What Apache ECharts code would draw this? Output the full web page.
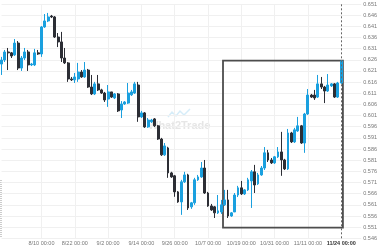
<!DOCTYPE html>
<html>
<head>
<meta charset="utf-8">
<style>html,body{margin:0;padding:0;background:#fff}#c{width:380px;height:250px}</style>
<script src="https://cdn.jsdelivr.net/npm/echarts@6/dist/echarts.min.js"></script>
</head>
<body>
<div id="c"></div>
<script>
// ---- data ----
const opens  = [0.6241,0.6259,0.6295,0.6291,0.6282,0.6335,0.6223,0.6268,0.6295,0.6237,0.6237,0.6291,0.6286,0.6407,0.6434,0.6456,0.6452,0.6362,0.6340,0.6268,
0.6246,0.6174,0.6170,0.6174,0.6205,0.6183,0.6214,0.6138,0.6107,0.6152,0.6125,0.6111,0.6084,0.6116,0.6089,0.6107,0.6035,0.6062,0.6066,0.6103,
0.6111,0.6147,0.6004,0.6022,0.5959,0.5982,0.5995,0.5964,0.5905,0.5834,0.5865,0.5753,0.5740,0.5668,0.5623,0.5713,0.5744,0.5601,0.5619,0.5722,
0.5735,0.5775,0.5663,0.5605,0.5601,0.5574,0.5578,0.5610,0.5632,0.5560,0.5578,0.5654,0.5686,0.5659,0.5677,0.5717,0.5758,0.5704,0.5744,0.5775,
0.5843,0.5811,0.5798,0.5825,0.5847,0.5811,0.5771,0.5932,0.5892,0.5941,0.5964,0.5887,0.6017,0.6102,0.6102,0.6093,0.6152,0.6138,0.6120,0.6143,
0.6152,0.6093,0.6156];
const closes = [0.6259,0.6295,0.6291,0.6277,0.6335,0.6223,0.6268,0.6295,0.6237,0.6241,0.6291,0.6286,0.6407,0.6434,0.6452,0.6452,0.6362,0.6340,0.6268,0.6246,
0.6174,0.6170,0.6183,0.6205,0.6183,0.6214,0.6138,0.6107,0.6152,0.6125,0.6111,0.6080,0.6116,0.6093,0.6107,0.6031,0.6062,0.6071,0.6111,0.6116,
0.6152,0.6004,0.6022,0.5959,0.5990,0.5990,0.5964,0.5905,0.5834,0.5874,0.5753,0.5735,0.5668,0.5623,0.5713,0.5744,0.5596,0.5619,0.5722,0.5735,
0.5775,0.5663,0.5605,0.5587,0.5574,0.5583,0.5610,0.5632,0.5560,0.5574,0.5654,0.5686,0.5659,0.5677,0.5722,0.5758,0.5699,0.5744,0.5775,0.5843,
0.5811,0.5798,0.5825,0.5847,0.5811,0.5771,0.5932,0.5892,0.5946,0.5964,0.5887,0.6017,0.6102,0.6093,0.6089,0.6152,0.6138,0.6120,0.6147,0.6152,
0.6093,0.6156,0.6255];
const lows   = [0.6192,0.6250,0.6214,0.6268,0.6277,0.6214,0.6210,0.6259,0.6210,0.6232,0.6232,0.6282,0.6273,0.6403,0.6429,0.6447,0.6358,0.6317,0.6250,0.6241,
0.6161,0.6165,0.6156,0.6161,0.6179,0.6179,0.6134,0.6102,0.6102,0.6120,0.6107,0.6071,0.6049,0.6089,0.6084,0.6026,0.5999,0.6058,0.6062,0.6098,
0.6107,0.5982,0.5999,0.5955,0.5955,0.5977,0.5959,0.5901,0.5829,0.5829,0.5731,0.5731,0.5646,0.5619,0.5565,0.5708,0.5587,0.5592,0.5610,0.5717,
0.5731,0.5659,0.5601,0.5583,0.5551,0.5569,0.5569,0.5605,0.5551,0.5556,0.5578,0.5645,0.5654,0.5654,0.5672,0.5596,0.5663,0.5699,0.5740,0.5766,
0.5802,0.5793,0.5793,0.5820,0.5740,0.5766,0.5766,0.5887,0.5887,0.5937,0.5883,0.5843,0.6013,0.6089,0.6080,0.6089,0.6129,0.6066,0.6116,0.6138,
0.6089,0.6089,0.6152];
const highs  = [0.6273,0.6304,0.6313,0.6295,0.6353,0.6344,0.6277,0.6313,0.6304,0.6246,0.6309,0.6304,0.6411,0.6465,0.6470,0.6461,0.6456,0.6380,0.6385,0.6313,
0.6250,0.6183,0.6201,0.6246,0.6214,0.6250,0.6219,0.6192,0.6161,0.6192,0.6130,0.6116,0.6147,0.6116,0.6111,0.6111,0.6075,0.6075,0.6156,0.6125,
0.6161,0.6161,0.6031,0.6026,0.5999,0.5995,0.5999,0.5968,0.5910,0.5887,0.5870,0.5758,0.5744,0.5672,0.5722,0.5758,0.5749,0.5623,0.5731,0.5744,
0.5802,0.5811,0.5668,0.5614,0.5605,0.5654,0.5632,0.5677,0.5677,0.5578,0.5663,0.5695,0.5717,0.5681,0.5731,0.5766,0.5789,0.5753,0.5784,0.5869,
0.5856,0.5820,0.5829,0.5869,0.5937,0.5816,0.5950,0.5937,0.5955,0.6004,0.5968,0.6022,0.6129,0.6107,0.6125,0.6192,0.6183,0.6143,0.6196,0.6156,
0.6156,0.6161,0.6259];
const slotCount = 109;                       // candle slots on the axis (incl. empty future slots)
const tickIndex  = [12, 22, 32, 42, 52, 62, 72, 82, 92, 102];
const tickLabels = ['8/10 00:00','8/22 00:00','9/2 00:00','9/14 00:00','9/26 00:00','10/7 00:00','10/19 00:00','10/31 00:00','11/11 00:00','11/24 00:00'];
const yMin = 0.546, yMax = 0.651, yStep = 0.005;
const boxX = [66.5, 102.5];
const boxY = [0.5508, 0.6256];
const currentIndex = 102;

// ---- chart ----
const categories = [];
for (let i = 0; i < slotCount; i++) categories.push(String(i));
const ohlc = opens.map((o, i) => [o, closes[i], lows[i], highs[i]]);
const isTick = (i) => tickIndex.indexOf(i) >= 0;
const FONT = '"Liberation Sans", Arial, sans-serif';

const chart = echarts.init(document.getElementById('c'), null, {renderer: 'canvas'});
chart.setOption({
  animation: false,
  backgroundColor: '#fff',
  grid: {left: 1.5, right: 16.7, top: 4, bottom: 11.7, containLabel: false},
  xAxis: [{
    type: 'category', data: categories, boundaryGap: false,
    axisLine: {show: false}, axisTick: {show: false},
    axisLabel: {
      interval: (i) => isTick(i), margin: 2, fontSize: 5.5, color: '#777', fontFamily: FONT,
      formatter: (v, i) => {
        const k = tickIndex.indexOf(Number(v));
        if (k < 0) return '';
        return k === tickLabels.length - 1 ? '{b|' + tickLabels[k] + '}' : tickLabels[k];
      },
      rich: {b: {fontWeight: 'bold', color: '#333', fontSize: 5.5, fontFamily: FONT}}
    },
    splitLine: {show: true, interval: (i) => isTick(i) && i !== currentIndex, lineStyle: {color: '#f0f0f0', width: 1}}
  }, {
    type: 'value', min: 0, max: slotCount - 1, show: false
  }],
  yAxis: {
    type: 'value', position: 'right', min: yMin, max: yMax, interval: yStep, scale: true,
    axisLine: {show: false}, axisTick: {show: false},
    axisLabel: {margin: 2, fontSize: 5.5, color: '#777', fontFamily: FONT, formatter: (v) => v.toFixed(3)},
    splitLine: {lineStyle: {color: '#f0f0f0', width: 1}}
  },
  graphic: [
    {type: 'text', left: 148, top: 120, z: 0, silent: true,
     style: {text: 'What2Trade', font: 'bold 11px "Liberation Sans", Arial, sans-serif', fill: '#e6e6e6'}},
    {type: 'polyline', z: 0, silent: true,
     shape: {points: [[168,117],[172,112],[176,116],[180,111],[184,115],[190,109]]},
     style: {stroke: '#d6edf9', lineWidth: 1.5, fill: null}},
    {type: 'line', z: 0, silent: true, shape: {x1: 1, y1: 180, x2: 1, y2: 237},
     style: {stroke: '#999', lineWidth: 1, lineDash: [1, 1]}}
  ],
  series: [{
    type: 'candlestick', xAxisIndex: 0, data: ohlc, barWidth: 2.4,
    itemStyle: {color: '#1aa0df', color0: '#2c2e35', borderColor: '#1aa0df', borderColor0: '#2c2e35', borderWidth: 1},
    markLine: {
      silent: true, symbol: ['none', 'none'], label: {show: false},
      lineStyle: {color: '#666', type: [2, 2], width: 1},
      data: [{xAxis: currentIndex}]
    },
    z: 3
  }, {
    type: 'line', xAxisIndex: 1, data: [[boxX[0], boxY[0]]], showSymbol: false, symbol: 'none',
    lineStyle: {opacity: 0}, silent: true, z: 4,
    markArea: {
      silent: true,
      itemStyle: {color: 'rgba(0,0,0,0)', borderColor: '#4d4d4d', borderWidth: 1.8},
      data: [[{xAxis: boxX[0], yAxis: boxY[0]}, {xAxis: boxX[1], yAxis: boxY[1]}]]
    }
  }]
});
</script>
</body>
</html>
